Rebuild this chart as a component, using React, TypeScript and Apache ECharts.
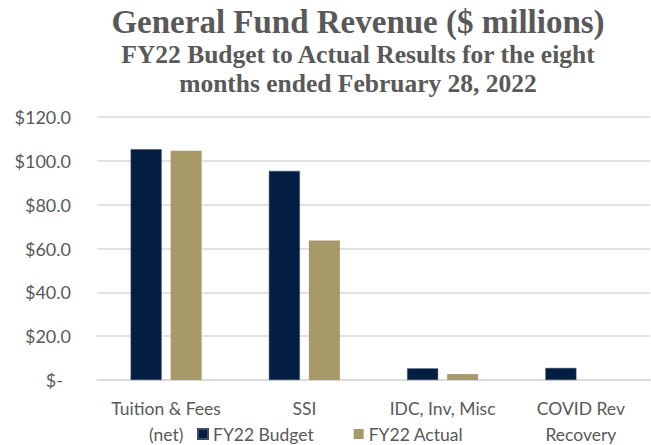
import React, { useEffect, useRef } from "react";
import * as echarts from "echarts";

const categories = ["Tuition & Fees\n(net)", "SSI", "IDC, Inv, Misc", "COVID Rev\nRecovery"];
const budgetValues = [105.3, 95.4, 5.3, 5.5];
const actualValues = [104.6, 63.6, 2.7, 0];
const seriesNames = ["FY22 Budget", "FY22 Actual"];
const yTickLabels = ["$-", "$20.0", "$40.0", "$60.0", "$80.0", "$100.0", "$120.0"];
const titleText = "General Fund Revenue ($ millions)";
const subtitleLines = ["FY22 Budget to Actual Results for the eight", "months ended February 28, 2022"];

export default function App() {
  const ref = useRef<HTMLDivElement>(null);
  useEffect(() => {
    document.body.style.margin = "0";
    const chart = echarts.init(ref.current!, null, { renderer: "svg" });
    const gray = "#595959";
    chart.setOption({
      animation: false,
      backgroundColor: "#ffffff",
      graphic: [
        {
          type: "text",
          x: 358,
          y: 22,
          style: {
            text: titleText,
            font: "bold 33px 'Liberation Serif', 'Times New Roman', serif",
            fill: gray,
            textAlign: "center",
            textVerticalAlign: "middle",
          },
        },
        ...subtitleLines.map((t, i) => ({
          type: "text",
          x: 358,
          y: 54 + i * 29,
          style: {
            text: t,
            font: "bold 25.5px 'Liberation Serif', 'Times New Roman', serif",
            fill: gray,
            textAlign: "center",
            textVerticalAlign: "middle",
          },
        })),
      ],
      legend: {
        data: seriesNames,
        left: 192,
        top: 419,
        icon: "rect",
        itemWidth: 10,
        itemHeight: 10,
        itemGap: 40,
        textStyle: { color: gray, fontFamily: "Lato", fontSize: 17.5, lineHeight: 20 },
      },
      grid: { left: 97, right: 1, top: 117, bottom: 65, outerBoundsMode: "none", containLabel: false },
      xAxis: {
        type: "category",
        data: categories,
        axisLine: { lineStyle: { color: "#d9d9d9", width: 1.5 } },
        axisTick: { show: false },
        axisLabel: {
          color: gray,
          fontFamily: "Lato",
          fontSize: 17.5,
          lineHeight: 26,
          margin: 15,
          interval: 0,
        },
      },
      yAxis: {
        type: "value",
        min: 0,
        max: 120,
        interval: 20,
        axisLine: { show: false },
        axisTick: { show: false },
        splitLine: { lineStyle: { color: "#d9d9d9", width: 1.5 } },
        axisLabel: {
          color: gray,
          fontFamily: "Lato",
          fontSize: 18,
          margin: 26,
          formatter: (v: number) => {
            const lbl = yTickLabels[Math.round(v / 20)];
            return v === 0 ? "{z|" + lbl + "}" : lbl;
          },
          rich: {
            z: { color: gray, fontFamily: "Lato", fontSize: 18, padding: [0, 8, 0, 0] },
          },
        },
      },
      series: [
        {
          name: seriesNames[0],
          type: "bar",
          data: budgetValues,
          barWidth: 31,
          barGap: "29%",
          itemStyle: { color: "#041E42", borderColor: "#3a4c6a", borderWidth: 0.5 },
        },
        {
          name: seriesNames[1],
          type: "bar",
          data: actualValues,
          barWidth: 31,
          itemStyle: { color: "#A89968" },
        },
      ],
    });
    return () => chart.dispose();
  }, []);
  return <div ref={ref} style={{ width: 651, height: 445 }} />;
}
